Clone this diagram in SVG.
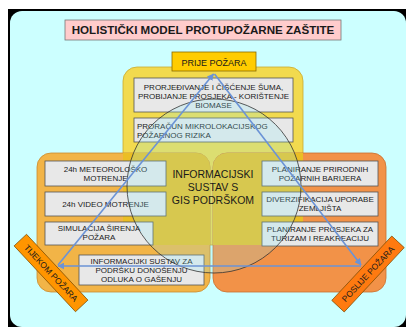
<svg xmlns="http://www.w3.org/2000/svg" width="406" height="327" viewBox="0 0 406 327">
<style>
text{font-family:"Liberation Sans",Arial,sans-serif;fill:#1a1a1a}
.bx{fill:#e8e8e8;stroke:#555;stroke-width:0.8}
.t8{font-size:8px;text-anchor:middle}
.t8l{font-size:8px}
.arr{fill:none;stroke:#6b93d6;stroke-width:1.6}
.rot{stroke:#7a4a00;stroke-width:0.7}
.rt{font-size:8.5px;text-anchor:middle}
</style>
<defs>
<marker id="ah" viewBox="0 0 10 10" refX="9" refY="5" markerWidth="7" markerHeight="7" markerUnits="userSpaceOnUse" orient="auto">
<path d="M0,0 L10,5 L0,10 z" fill="#6b93d6"/>
</marker>
<clipPath id="yclip"><rect x="123" y="67" width="180" height="178" rx="14"/></clipPath>
</defs>
<rect width="406" height="327" fill="#fff"/>
<rect x="8" y="9" width="398" height="318" fill="#000"/>
<rect x="10" y="11" width="396" height="316" rx="12" fill="#ccffff"/>

<g id="title">
<rect x="65" y="20" width="276" height="20" fill="#ffcccc" stroke="#777" stroke-width="0.8"/>
<text x="203" y="34" font-size="11.6" font-weight="bold" text-anchor="middle">HOLISTIČKI MODEL PROTUPOŽARNE ZAŠTITE</text>
</g>

<g id="panels">
<rect x="123" y="67" width="180" height="178" rx="14" fill="#f2da4e" stroke="#c9aa30" stroke-width="0.8"/>
<rect x="37" y="153" width="173" height="139" rx="14" fill="#f2b447" stroke="#c98c30" stroke-width="0.8"/>
<rect x="213" y="153" width="173" height="139" rx="14" fill="#f29248" stroke="#c87030" stroke-width="0.8"/>
<g clip-path="url(#yclip)">
<rect x="37" y="153" width="173" height="139" rx="14" fill="#ebbe24"/>
<rect x="213" y="153" width="173" height="139" rx="14" fill="#ebbe24"/>
</g>
</g>

<g id="box-prorjedivanje">
<rect class="bx" x="134" y="78" width="159" height="34"/>
<text class="t8" x="213.5" y="90">PRORJEĐIVANJE I ČIŠĆENJE ŠUMA,</text>
<text class="t8" x="213.5" y="99">PROBIJANJE PROSJEKA - KORIŠTENJE</text>
<text class="t8" x="213.5" y="108">BIOMASE</text>
</g>
<g id="box-proracun">
<rect class="bx" x="134" y="118" width="159" height="24"/>
<text class="t8l" x="137" y="128.5">PRORAČUN MIKROLOKACIJSKOG</text>
<text class="t8l" x="137" y="137.5">POŽARNOG RIZIKA</text>
</g>
<g id="box-meteo">
<rect class="bx" x="45" y="161" width="121" height="25"/>
<text class="t8" x="105.5" y="171.5">24h METEOROLOŠKO</text>
<text class="t8" x="105.5" y="180.5">MOTRENJE</text>
</g>
<g id="box-video">
<rect class="bx" x="45" y="192" width="121" height="24"/>
<text class="t8" x="105.5" y="206.5">24h VIDEO MOTRENJE</text>
</g>
<g id="box-simulacija">
<rect class="bx" x="45" y="222" width="108" height="23"/>
<text class="t8" x="99" y="231">SIMULACIJA ŠIRENJA</text>
<text class="t8" x="99" y="240">POŽARA</text>
</g>
<g id="box-odluka">
<rect class="bx" x="79" y="255" width="125" height="30"/>
<text class="t8" x="141.5" y="264">INFORMACIJKI SUSTAV ZA</text>
<text class="t8" x="141.5" y="273">PODRŠKU DONOŠENJU</text>
<text class="t8" x="141.5" y="282">ODLUKA O GAŠENJU</text>
</g>
<g id="box-barijere">
<rect class="bx" x="262" y="161" width="116" height="25"/>
<text class="t8" x="320" y="172">PLANIRANJE PRIRODNIH</text>
<text class="t8" x="320" y="181">POŽARNIH BARIJERA</text>
</g>
<g id="box-diverzifikacija">
<rect class="bx" x="262" y="192" width="116" height="24"/>
<text class="t8" x="320" y="202">DIVERZIFIKACIJA UPORABE</text>
<text class="t8" x="320" y="211">ZEMLJIŠTA</text>
</g>
<g id="box-turizam">
<rect class="bx" x="262" y="222" width="116" height="24"/>
<text class="t8" x="320" y="232">PLANIRANJE PROSJEKA ZA</text>
<text class="t8" x="320" y="241">TURIZAM I REAKREACIJU</text>
</g>

<g id="gis">
<circle cx="214" cy="186" r="87" fill="#88eeff" fill-opacity="0.2" stroke="#333" stroke-width="0.8"/>
<text x="213" y="178" font-size="10.5" text-anchor="middle">INFORMACIJSKI</text>
<text x="213" y="191" font-size="10.5" text-anchor="middle">SUSTAV S</text>
<text x="213" y="203.5" font-size="10.5" text-anchor="middle">GIS PODRŠKOM</text>
</g>

<g id="connectors">
<line class="arr" x1="58" y1="265" x2="213.5" y2="74" marker-end="url(#ah)"/>
<line class="arr" x1="214.5" y1="74" x2="361" y2="265" marker-end="url(#ah)"/>
<line class="arr" x1="361" y1="266" x2="58" y2="266" marker-end="url(#ah)"/>
</g>

<g id="prije">
<rect x="172" y="52" width="84" height="19" fill="#ffcc00" stroke="#8a6a00" stroke-width="0.8"/>
<text x="214" y="65.5" font-size="9" text-anchor="middle">PRIJE POŽARA</text>
</g>
<g id="tijekom" transform="translate(51,273) rotate(47)">
<rect class="rot" x="-45" y="-8.5" width="90" height="17" fill="#ff9500"/>
<text class="rt" x="0" y="3">TIJEKOM POŽARA</text>
</g>
<g id="poslije" transform="translate(368,274) rotate(-47)">
<rect class="rot" x="-44" y="-8.5" width="88" height="17" fill="#ff7a10"/>
<text class="rt" x="0" y="3">POSLIJE POŽARA</text>
</g>
</svg>
